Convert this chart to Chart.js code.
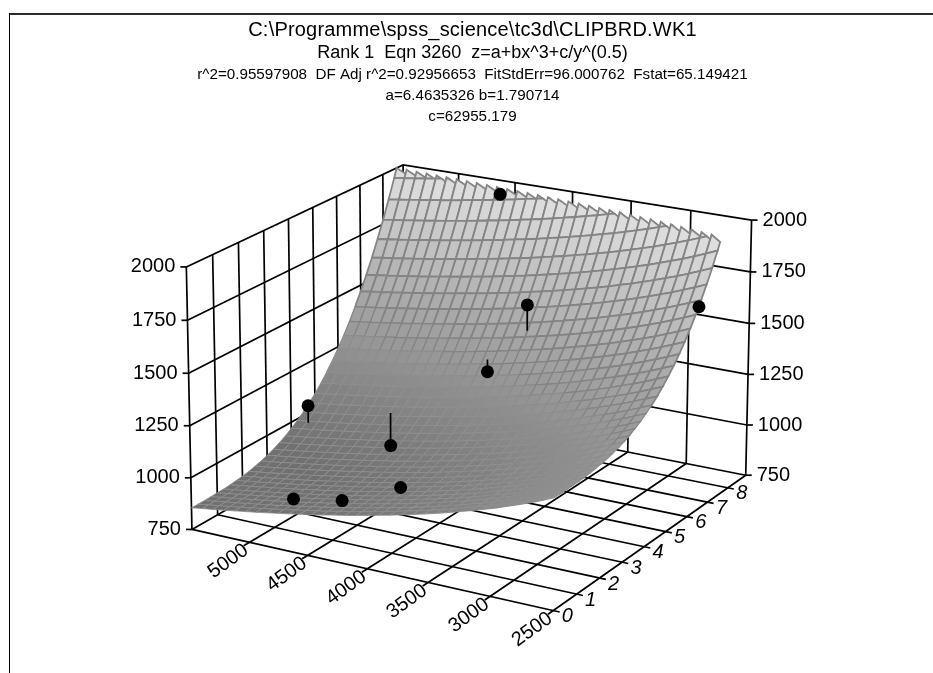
<!DOCTYPE html>
<html><head><meta charset="utf-8">
<style>html,body{margin:0;padding:0;background:#fff}canvas{display:block}</style>
<script src="https://cdn.jsdelivr.net/npm/chart.js@4"></script></head>
<body><canvas id="c" width="933" height="673"></canvas>
<script>
const titleLines=['C:\\Programme\\spss_science\\tc3d\\CLIPBRD.WK1','Rank 1  Eqn 3260  z=a+bx^3+c/y^(0.5)','r^2=0.95597908  DF Adj r^2=0.92956653  FitStdErr=96.000762  Fstat=65.149421','a=6.4635326 b=1.790714','c=62955.179'];
const zTicks=[750,1000,1250,1500,1750,2000];
const bTicks=[5000,4500,4000,3500,3000,2500];
const aTicks=[0,1,2,3,4,5,6,7,8];
const aMax=8.9;
const bVals=[5500,5406.25,5312.5,5218.75,5125,5031.25,4937.5,4843.75,4750,4656.25,4562.5,4468.75,4375,4281.25,4187.5,4093.75,4000,3906.25,3812.5,3718.75,3625,3531.25,3437.5,3343.75,3250,3156.25,3062.5,2968.75,2875,2781.25,2687.5,2593.75,2500];
const aVals=[0,0.25,0.5,0.75,1,1.25,1.5,1.75,2,2.25,2.5,2.75,3,3.25,3.5,3.75,4,4.25,4.5,4.75,5,5.25,5.5,5.75,6,6.25,6.5,6.75,7,7.25,7.5,7.75,8,8.25,8.5,8.75];
const zGrid=[
[855,863,870,878,886,894,902,911,920,929,939,948,958,969,979,990,1002,1014,1026,1039,1052,1066,1080,1095,1111,1127,1144,1162,1181,1200,1221,1243,1266],
[855,863,870,878,886,894,902,911,920,929,939,948,958,969,979,990,1002,1014,1026,1039,1052,1066,1080,1095,1111,1127,1144,1162,1181,1200,1221,1243,1266],
[855,863,870,878,886,894,902,911,920,929,939,948,958,969,979,990,1002,1014,1026,1039,1052,1066,1080,1095,1111,1127,1144,1162,1181,1200,1221,1243,1266],
[856,864,871,879,887,895,903,912,921,930,940,949,959,970,980,991,1003,1015,1027,1040,1053,1067,1081,1096,1112,1128,1145,1163,1182,1201,1222,1244,1267],
[857,865,872,880,888,896,904,913,922,931,941,950,960,971,981,992,1004,1016,1028,1041,1054,1068,1082,1097,1113,1129,1146,1164,1183,1202,1223,1245,1268],
[858,866,873,881,889,897,905,914,923,932,942,951,961,972,982,993,1005,1017,1029,1042,1055,1069,1083,1098,1114,1130,1147,1165,1184,1203,1224,1246,1269],
[861,869,876,884,892,900,908,917,926,935,945,954,964,975,985,996,1008,1020,1032,1045,1058,1072,1086,1101,1117,1133,1150,1168,1187,1206,1227,1249,1272],
[865,873,880,888,896,904,912,921,930,939,949,958,968,979,989,1000,1012,1024,1036,1049,1062,1076,1090,1105,1121,1137,1154,1172,1191,1210,1231,1253,1276],
[869,877,884,892,900,908,916,925,934,943,953,962,972,983,993,1004,1016,1028,1040,1053,1066,1080,1094,1109,1125,1141,1158,1176,1195,1214,1235,1257,1280],
[875,883,890,898,906,914,922,931,940,949,959,968,978,989,999,1010,1022,1034,1046,1059,1072,1086,1100,1115,1131,1147,1164,1182,1201,1220,1241,1263,1286],
[883,891,898,906,914,922,930,939,948,957,967,976,986,997,1007,1018,1030,1042,1054,1067,1080,1094,1108,1123,1139,1155,1172,1190,1209,1228,1249,1271,1294],
[892,900,907,915,923,931,939,948,957,966,976,985,995,1006,1016,1027,1039,1051,1063,1076,1089,1103,1117,1132,1148,1164,1181,1199,1218,1237,1258,1280,1303],
[903,911,918,926,934,942,950,959,968,977,987,996,1006,1017,1027,1038,1050,1062,1074,1087,1100,1114,1128,1143,1159,1175,1192,1210,1229,1248,1269,1291,1314],
[916,924,931,939,947,955,963,972,981,990,1000,1009,1019,1030,1040,1051,1063,1075,1087,1100,1113,1127,1141,1156,1172,1188,1205,1223,1242,1261,1282,1304,1327],
[932,940,947,955,963,971,979,988,997,1006,1016,1025,1035,1046,1056,1067,1079,1091,1103,1116,1129,1143,1157,1172,1188,1204,1221,1239,1258,1277,1298,1320,1343],
[949,957,964,972,980,988,996,1005,1014,1023,1033,1042,1052,1063,1073,1084,1096,1108,1120,1133,1146,1160,1174,1189,1205,1221,1238,1256,1275,1294,1315,1337,1360],
[970,978,985,993,1001,1009,1017,1026,1035,1044,1054,1063,1073,1084,1094,1105,1117,1129,1141,1154,1167,1181,1195,1210,1226,1242,1259,1277,1296,1315,1336,1358,1381],
[992,1000,1007,1015,1023,1031,1039,1048,1057,1066,1076,1085,1095,1106,1116,1127,1139,1151,1163,1176,1189,1203,1217,1232,1248,1264,1281,1299,1318,1337,1358,1380,1403],
[1018,1026,1033,1041,1049,1057,1065,1074,1083,1092,1102,1111,1121,1132,1142,1153,1165,1177,1189,1202,1215,1229,1243,1258,1274,1290,1307,1325,1344,1363,1384,1406,1429],
[1047,1055,1062,1070,1078,1086,1094,1103,1112,1121,1131,1140,1150,1161,1171,1182,1194,1206,1218,1231,1244,1258,1272,1287,1303,1319,1336,1354,1373,1392,1413,1435,1458],
[1079,1087,1094,1102,1110,1118,1126,1135,1144,1153,1163,1172,1182,1193,1203,1214,1226,1238,1250,1263,1276,1290,1304,1319,1335,1351,1368,1386,1405,1424,1445,1467,1490],
[1114,1122,1129,1137,1145,1153,1161,1170,1179,1188,1198,1207,1217,1228,1238,1249,1261,1273,1285,1298,1311,1325,1339,1354,1370,1386,1403,1421,1440,1459,1480,1502,1525],
[1153,1161,1168,1176,1184,1192,1200,1209,1218,1227,1237,1246,1256,1267,1277,1288,1300,1312,1324,1337,1350,1364,1378,1393,1409,1425,1442,1460,1479,1498,1519,1541,1564],
[1195,1203,1210,1218,1226,1234,1242,1251,1260,1269,1279,1288,1298,1309,1319,1330,1342,1354,1366,1379,1392,1406,1420,1435,1451,1467,1484,1502,1521,1540,1561,1583,1606],
[1242,1250,1257,1265,1273,1281,1289,1298,1307,1316,1326,1335,1345,1356,1366,1377,1389,1401,1413,1426,1439,1453,1467,1482,1498,1514,1531,1549,1568,1587,1608,1630,1653],
[1292,1300,1307,1315,1323,1331,1339,1348,1357,1366,1376,1385,1395,1406,1416,1427,1439,1451,1463,1476,1489,1503,1517,1532,1548,1564,1581,1599,1618,1637,1658,1680,1703],
[1347,1355,1362,1370,1378,1386,1394,1403,1412,1421,1431,1440,1450,1461,1471,1482,1494,1506,1518,1531,1544,1558,1572,1587,1603,1619,1636,1654,1673,1692,1713,1735,1758],
[1406,1414,1421,1429,1437,1445,1453,1462,1471,1480,1490,1499,1509,1520,1530,1541,1553,1565,1577,1590,1603,1617,1631,1646,1662,1678,1695,1713,1732,1751,1772,1794,1817],
[1469,1477,1484,1492,1500,1508,1516,1525,1534,1543,1553,1562,1572,1583,1593,1604,1616,1628,1640,1653,1666,1680,1694,1709,1725,1741,1758,1776,1795,1814,1835,1857,1880],
[1537,1545,1552,1560,1568,1576,1584,1593,1602,1611,1621,1630,1640,1651,1661,1672,1684,1696,1708,1721,1734,1748,1762,1777,1793,1809,1826,1844,1863,1882,1903,1925,1948],
[1610,1618,1625,1633,1641,1649,1657,1666,1675,1684,1694,1703,1713,1724,1734,1745,1757,1769,1781,1794,1807,1821,1835,1850,1866,1882,1899,1917,1936,1955,1976,1998,2021],
[1689,1697,1704,1712,1720,1728,1736,1745,1754,1763,1773,1782,1792,1803,1813,1824,1836,1848,1860,1873,1886,1900,1914,1929,1945,1961,1978,1996,2015,2034,2055,2077,2100],
[1772,1780,1787,1795,1803,1811,1819,1828,1837,1846,1856,1865,1875,1886,1896,1907,1919,1931,1943,1956,1969,1983,1997,2012,2028,2044,2061,2079,2098,2117,2138,2160,2183],
[1861,1869,1876,1884,1892,1900,1908,1917,1926,1935,1945,1954,1964,1975,1985,1996,2008,2020,2032,2045,2058,2072,2086,2101,2117,2133,2150,2168,2187,2206,2227,2249,2272],
[1955,1963,1970,1978,1986,1994,2002,2011,2020,2029,2039,2048,2058,2069,2079,2090,2102,2114,2126,2139,2152,2166,2180,2195,2211,2227,2244,2262,2281,2300,2321,2343,2366],
[2055,2063,2070,2078,2086,2094,2102,2111,2120,2129,2139,2148,2158,2169,2179,2190,2202,2214,2226,2239,2252,2266,2280,2295,2311,2327,2344,2362,2381,2400,2421,2443,2466]
];
const obsA=[8.32,6.36,6.40,5.84,4.20,4.58,1.76,0.94,0.92];
const obsB=[4520,3910,2500,4150,5390,4740,4080,4820,4400];
const obsZ=[1972,1600,1732,1280,1082,932,1000,914,958];
const fitZ=[1974,1474,1735,1340,997,1093,1002,915,957];
// camera calibration: where the cube corners of the 3D box fall on the page
const calib=[[0,0,0,192,528],[1,0,0,553,612],[1,1,0,746,473],[0,1,0,404,410],[0,0,1,186.5,267],[1,1,1,751.5,221],[0,1,1,403,164]];
function solve(){const A=[],B=[];for(const [u,v,w,X0,Y0] of calib){const X=X0/1000,Y=Y0/1000;A.push([u,v,w,1,0,0,0,0,-X*u,-X*v,-X*w]);B.push(X);A.push([0,0,0,0,u,v,w,1,-Y*u,-Y*v,-Y*w]);B.push(Y);}
const n=11,M=[];for(let i=0;i<n;i++){M.push(new Array(n+1).fill(0));for(let j=0;j<n;j++)for(let k=0;k<A.length;k++)M[i][j]+=A[k][i]*A[k][j];for(let k=0;k<A.length;k++)M[i][n]+=A[k][i]*B[k];}
for(let i=0;i<n;i++){let p=i;for(let r=i;r<n;r++)if(Math.abs(M[r][i])>Math.abs(M[p][i]))p=r;[M[i],M[p]]=[M[p],M[i]];for(let r=0;r<n;r++)if(r!==i){const f=M[r][i]/M[i][i];for(let c=i;c<=n;c++)M[r][c]-=f*M[i][c];}}
return M.map((r,i)=>r[n]/r[i]);}
const P=solve();
function proj(b,a,z){const u=(5500-b)/3000,v=a/aMax,w=(z-750)/1250,d=P[8]*u+P[9]*v+P[10]*w+1;return{x:1000*(P[0]*u+P[1]*v+P[2]*w+P[3])/d,y:1000*(P[4]*u+P[5]*v+P[6]*w+P[7])/d};}
const ds=[];
const GW=1.7,K='#000';
function line(pts,w,col){ds.push({data:pts,borderColor:col,borderWidth:w,pointRadius:0,fill:false,tension:0,order:-ds.length});}
for(const z of zTicks){const l=proj(5500,0,z),r=proj(2500,aMax,z);line([l,proj(5500,aMax,z),r],GW,K);line([{x:l.x-6,y:l.y},l],GW,K);line([r,{x:r.x+6,y:r.y}],GW,K);}
for(const a of [0,1,2,3,4,5,6,7,8,aMax])line([proj(5500,a,750),proj(5500,a,2000)],GW,K);
for(const b of bTicks)line([proj(b,aMax,750),proj(b,aMax,2000)],GW,K);
for(const b of bTicks)line([proj(b,-0.22,750),proj(b,aMax,750)],GW,K);
for(const a of aTicks)line([proj(2450,a,750),proj(5500,a,750)],GW,K);
function clip(poly){const out=[];for(let i=0;i<poly.length;i++){const p=poly[i],q=poly[(i+1)%poly.length];if(p.f<=0)out.push(p);if((p.f<=0)!==(q.f<=0)){const t=p.f/(p.f-q.f);out.push({a:p.a+t*(q.a-p.a),b:p.b+t*(q.b-p.b),z:p.z+t*(q.z-p.z),f:0});}}return out;}
function shade(z){const g=Math.round(Math.max(112,Math.min(224,120+(z-1000)*0.105)));return `rgb(${g},${g},${g})`;}
for(let j=aVals.length-2;j>=0;j--)for(let i=0;i<bVals.length-1;i++){
 const mk=(ii,jj)=>{const z=zGrid[jj][ii];return{a:aVals[jj],b:bVals[ii],z,f:z-(ii===i?2000:1982)};};
 const poly=clip([mk(i,j),mk(i+1,j),mk(i+1,j+1),mk(i,j+1)]);if(poly.length<3)continue;
 const zm=poly.reduce((s,p)=>s+p.z,0)/poly.length;const pts=poly.map(p=>proj(p.b,p.a,p.z));pts.push(pts[0]);
 ds.push({data:pts,borderColor:zm<1300?'#8e8e8e':'#848484',borderWidth:zm<1150?0.8:(zm<1400?1.2:1.8),backgroundColor:shade(zm),fill:'shape',pointRadius:0,tension:0,order:-ds.length});}
obsA.forEach((a,i)=>{if(Math.abs(obsZ[i]-fitZ[i])>10)line([proj(obsB[i],a,obsZ[i]),proj(obsB[i],a,fitZ[i])],GW,K);});
ds.push({data:obsA.map((a,i)=>proj(obsB[i],a,obsZ[i])),showLine:false,pointRadius:6.5,pointBorderWidth:0,pointBackgroundColor:K,borderWidth:0,fill:false,order:-ds.length});
const labels={id:'labels',beforeDraw(c){const x=c.ctx;x.save();x.fillStyle='#fff';x.fillRect(0,0,933,673);x.fillStyle='#2b2b2b';x.fillRect(9,13,924,2);x.fillStyle='#000';x.fillRect(9,13,1,660);x.restore();},
afterDatasetsDraw(c){const x=c.ctx;x.save();x.fillStyle='#000';x.textBaseline='middle';x.textAlign='center';
 const ty=[30,53.5,75,96,117],tf=['20px','18px','15.2px','15.2px','15.2px'];
 titleLines.forEach((t,i)=>{x.font=tf[i]+' "Liberation Sans"';x.letterSpacing=i===0?'0.2px':'0px';x.fillText(t,472.5,ty[i]);});
 x.letterSpacing='0px';
 x.font='20px "Liberation Sans"';
 for(const z of zTicks){const l=proj(5500,0,z),r=proj(2500,aMax,z);x.textAlign='right';x.fillText(z,l.x-11,l.y);x.textAlign='left';x.fillText(z,r.x+11,r.y);}
 x.textAlign='center';
 for(const b of bTicks){const p=proj(b,0,750);x.save();x.translate(p.x-21,p.y+19);x.rotate(-36*Math.PI/180);x.fillText(b,0,0);x.restore();}
 x.font='italic 20px "Liberation Sans"';
 for(const a of aTicks){const p=proj(2500,a,750);x.fillText(a,p.x+14,p.y+6);}
 x.restore();}};
new Chart(document.getElementById('c'),{type:'line',data:{datasets:ds},plugins:[labels],options:{responsive:false,animation:false,layout:{padding:0,autoPadding:false},events:[],plugins:{legend:{display:false},tooltip:{enabled:false},title:{display:false}},scales:{x:{type:'linear',min:0,max:933,display:false},y:{type:'linear',min:0,max:673,reverse:true,display:false}}}});
</script></body></html>
